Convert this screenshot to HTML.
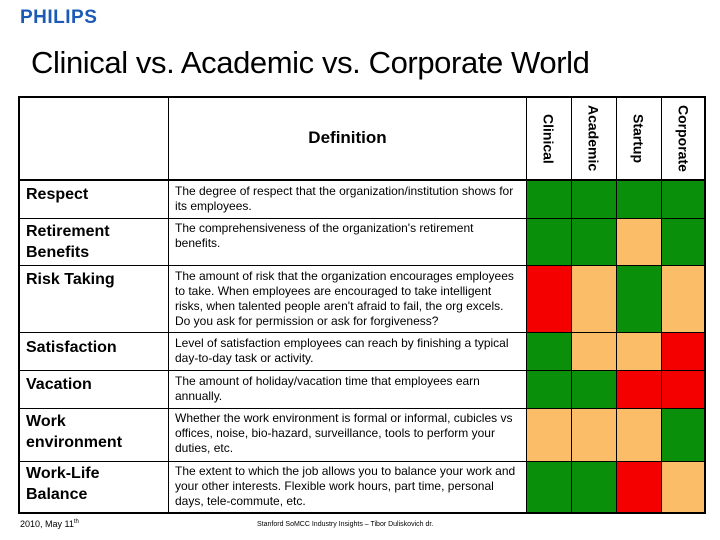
<!DOCTYPE html>
<html><head><meta charset="utf-8"><style>
body{margin:0;width:720px;height:540px;background:#fff;position:relative;overflow:hidden;font-family:"Liberation Sans",Arial,sans-serif;color:#000}
.a{position:absolute}
.hl{position:absolute;background:#000}
.lab{position:absolute;left:26px;font-size:16px;line-height:21px;font-weight:bold;width:140px}
.def{position:absolute;left:175px;font-size:12px;line-height:15px;white-space:nowrap;letter-spacing:0px}
.vh{position:absolute;top:100px;width:45px;height:76px;font-size:14px;font-weight:bold;writing-mode:vertical-rl;display:flex;align-items:center;justify-content:flex-start}
</style></head><body>
<div class="a" style="left:20px;top:7px;font-size:19px;font-weight:bold;color:#1c5bb5;letter-spacing:0.5px">PHILIPS</div>
<div class="a" style="left:31px;top:45px;font-size:31px;letter-spacing:-0.4px">Clinical vs. Academic vs. Corporate World</div>

<div id="cells"></div>
<div id="lines"></div>

<div class="a" style="left:169px;width:357px;top:128px;text-align:center;font-size:17px;font-weight:bold">Definition</div>
<div class="vh" style="left:526px;top:114px">Clinical</div>
<div class="vh" style="left:571px;top:105px">Academic</div>
<div class="vh" style="left:616px;top:114px">Startup</div>
<div class="vh" style="left:661px;top:105px">Corporate</div>

<div class="lab" style="top:184px">Respect</div>
<div class="def" style="top:184px">The degree of respect that the organization/institution shows for<br>its employees.</div>
<div class="lab" style="top:221px">Retirement<br>Benefits</div>
<div class="def" style="top:221px">The comprehensiveness of the organization's retirement<br>benefits.</div>
<div class="lab" style="top:269px">Risk Taking</div>
<div class="def" style="top:269px">The amount of risk that the organization encourages employees<br>to take. When employees are encouraged to take intelligent<br>risks, when talented people aren't afraid to fail, the org excels.<br>Do you ask for permission or ask for forgiveness?</div>
<div class="lab" style="top:337px">Satisfaction</div>
<div class="def" style="top:336px">Level of satisfaction employees can reach by finishing a typical<br>day-to-day task or activity.</div>
<div class="lab" style="top:374px">Vacation</div>
<div class="def" style="top:374px">The amount of holiday/vacation time that employees earn<br>annually.</div>
<div class="lab" style="top:411px">Work<br>environment</div>
<div class="def" style="top:411px">Whether the work environment is formal or informal, cubicles vs<br>offices, noise, bio-hazard, surveillance, tools to perform your<br>duties, etc.</div>
<div class="lab" style="top:463px">Work-Life<br>Balance</div>
<div class="def" style="top:464px">The extent to which the job allows you to balance your work and<br>your other interests. Flexible work hours, part time, personal<br>days, tele-commute, etc.</div>

<div class="a" style="left:20px;top:519px;font-size:9px">2010, May 11<sup style="font-size:6px">th</sup></div>
<div class="a" style="left:257px;top:521px;font-size:7px">Stanford SoMCC Industry Insights – Tibor Duliskovich dr.</div>

<script>
const categories=["Respect","Retirement Benefits","Risk Taking","Satisfaction","Vacation","Work environment","Work-Life Balance"];
const worlds=["Clinical","Academic","Startup","Corporate"];
const clinical=["G","G","R","G","G","O","G"];
const academic=["G","G","O","O","G","O","G"];
const startup=["G","O","G","O","R","O","R"];
const corporate=["G","G","O","R","R","G","O"];
const series=[clinical,academic,startup,corporate];
const colorMap={G:"#0a8f0a",O:"#fbbd68",R:"#f40000"};
const rowEdges=[180,218,265,332,370,408,461,513];
const colEdges=[526,571,616,661,706];
const cells=document.getElementById('cells');
series.forEach((s,c)=>{s.forEach((v,r)=>{
 const d=document.createElement('div');
 
 
 d.style.cssText='position:absolute;left:'+colEdges[c]+'px;top:'+rowEdges[r]+'px;width:'+(colEdges[c+1]-colEdges[c])+'px;height:'+(rowEdges[r+1]-rowEdges[r])+'px;background:'+colorMap[v];
 cells.appendChild(d);
});});
const L=document.getElementById('lines');
function line(x,y,w,h,n){const d=document.createElement('div');d.className='hl';
 
 
 d.style.left=x+'px';d.style.top=y+'px';d.style.width=w+'px';d.style.height=h+'px';L.appendChild(d);}
line(18,96,688,2,'table-top');
line(18,179,688,2,'header-bottom');
rowEdges.slice(1,-1).forEach((y,i)=>line(18,y,688,1,'row-line'));
line(18,512,688,2,'table-bottom');
line(18,96,2,418,'table-left');
line(704,96,2,418,'table-right');
line(168,96,1,418,'col-line');
colEdges.slice(0,-1).forEach(x=>line(x,96,1,418,'col-line'));
</script>
</body></html>
